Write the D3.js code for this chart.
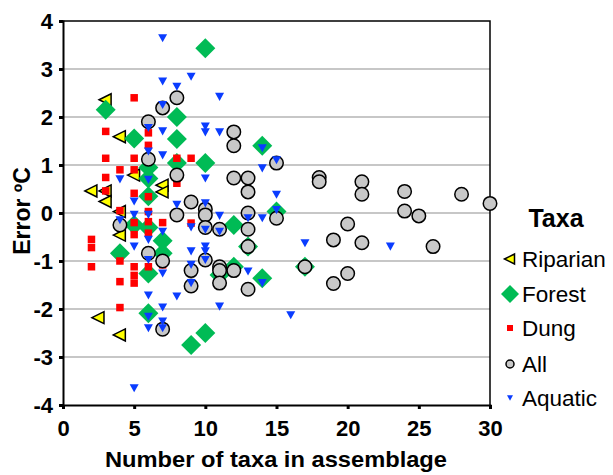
<!DOCTYPE html>
<html>
<head>
<meta charset="utf-8">
<script src="https://cdn.jsdelivr.net/npm/d3@7"></script>
<style>
  body { margin: 0; background: #fff; }
  svg text { font-family: "Liberation Sans", Arial, sans-serif; }
</style>
</head>
<body>
<div id="chart"></div>
<script>
////////////////////////////// DATA ////////////////////////////////

// [number of taxa, error]
const riparian = [
  [3, 2.36], [4, 1.59], [5, 0.79], [2, 0.46], [3, 0.46], [3, 0.24], [7, 0.58],
  [7, 0.44], [4, 0.03], [4, -0.46], [2.5, -2.18], [4, -2.54]
];
const forest = [
  [10, 3.43], [3, 2.15], [5, 1.55], [8, 2.0], [8, 1.54], [6, 0.95], [6, 0.72],
  [6, 0.35], [8, 1.04], [10, 1.04], [14, 1.4], [15, 0.03], [5, -0.25], [6, -0.3],
  [7, -0.58], [7, -0.84], [4, -0.84], [6, -1.26], [6, -2.09], [9, -2.75],
  [10, -2.5], [11, -1.29], [12, -0.25], [12, -1.12], [13, -0.7], [14, -1.36],
  [17, -1.12]
];
const dung = [
  [5, 2.4], [3, 1.7], [6, 1.67], [6, 1.41], [3, 1.14], [5, 1.14], [4, 0.9],
  [5, 0.9], [3, 0.74], [3, 0.46], [5, 0.41], [6, 0.34], [4, 0.05], [6, 0.03],
  [8, 1.14], [9, 1.14], [8, 0.62], [5, -0.2], [5, -0.45], [6, -0.18], [6, -0.42],
  [7, -0.2], [2, -0.55], [2, -0.72], [2, -1.12], [4, -1.0], [6, -1.12],
  [5, -1.12], [5, -1.3], [5, -1.46], [4, -1.43], [4, -1.97], [9, -0.21], [7, -1.08]
];
const all = [
  [6, 1.9], [6, 1.12], [7, 2.19], [8, 2.4], [12, 1.69], [12, 1.4], [8, 0.79],
  [12, 0.73], [13, 0.73], [13, 0.44], [9, 0.23], [10, 0.08], [10, -0.04],
  [15, 1.04], [13, 0.0], [8, -0.04], [13, -0.34], [11, -0.34], [10, -0.3],
  [15, -0.11], [7, -1.0], [9, -1.2], [10, -0.98], [11, -1.12], [11, -1.2],
  [12, -1.2], [13, -0.7], [11, -1.46], [9, -1.52], [13, -1.59], [7, -2.42],
  [18, 0.74], [18, 0.65], [21, 0.65], [21, 0.39], [24, 0.45], [28, 0.39],
  [30, 0.2], [24, 0.04], [25, -0.06], [20, -0.23], [19, -0.56], [21, -0.62],
  [26, -0.7], [17, -1.12], [20, -1.26], [19, -1.47], [4, -0.25], [6, -0.84]
];
const aquatic = [
  [7, 3.64], [9, 2.84], [7, 2.74], [8, 2.63], [11, 2.42], [7, 2.25], [6, 1.77],
  [7, 1.7], [10, 1.8], [10, 1.68], [11, 1.68], [14, 1.35], [6, 1.28], [7, 1.2],
  [4, 0.7], [6, 0.69], [10, 0.72], [14, 0.93], [15, 1.1], [15, 0.38], [5, 0.24],
  [8, 0.17], [10, 0.2], [15, 0.06], [11, -0.06], [14, -0.11], [13, -0.11],
  [5, -0.04], [6, -0.04], [4, -0.15], [7, -0.39], [9, -0.3], [10, -0.35],
  [11, -0.39], [6, -0.56], [5, -0.7], [10, -0.7], [10, -0.8], [9, -0.8],
  [6, -0.98], [10, -0.98], [9, -1.08], [7, -1.26], [13, -1.22], [14, -1.46],
  [9, -1.46], [8, -1.74], [6, -1.72], [7, -1.97], [11, -1.95], [6, -2.16],
  [7, -2.26], [6, -2.4], [7, -2.4], [17, -0.63], [23, -0.7], [16, -2.13],
  [5, -3.65]
];

const xTicks = [0, 5, 10, 15, 20, 25, 30];
const yTicks = [-4, -3, -2, -1, 0, 1, 2, 3, 4];

////////////////////////////// SET UP ////////////////////////////////

const width = 613;
const height = 475;

const svg = d3
  .select("#chart")
  .append("svg")
  .attr("width", width)
  .attr("height", height);

const x = d3.scaleLinear().domain([0, 30]).range([63, 490]);
const y = d3.scaleLinear().domain([-4, 4]).range([405, 21]);

// gridlines
svg
  .selectAll(".grid")
  .data(yTicks.filter((d) => d > -4 && d < 4))
  .join("line")
  .attr("class", "grid")
  .attr("x1", x(0))
  .attr("x2", x(30))
  .attr("y1", (d) => y(d))
  .attr("y2", (d) => y(d))
  .style("stroke", "#b4b4b4")
  .style("stroke-width", 1.5);

// frame top and right
svg
  .append("path")
  .attr("d", `M${x(0)},${y(4)}H${x(30)}V${y(-4)}`)
  .style("fill", "none")
  .style("stroke", "#000")
  .style("stroke-width", 1.5);

////////////////////////////// MARKERS ////////////////////////////////

const shapes = {
  left: (s) => `M${-s * 0.55},0L${s * 0.45},${-s / 2}L${s * 0.45},${s / 2}Z`,
  diamond: (s) => `M0,${-s / 2}L${s / 2},0L0,${s / 2}L${-s / 2},0Z`,
  square: (s) => `M${-s / 2},${-s / 2}h${s}v${s}h${-s}Z`,
  down: (s) => `M${-s / 2},${-s * 0.45}L${s / 2},${-s * 0.45}L0,${s * 0.45}Z`,
};

const series = [
  { name: "Riparian", data: riparian, shape: "left", size: 12, fill: "#ffff00", stroke: "#000", legendSize: 10 },
  { name: "Forest", data: forest, shape: "diamond", size: 20, fill: "#00bb55", stroke: "none", legendSize: 18 },
  { name: "Dung", data: dung, shape: "square", size: 7.5, fill: "#ff0000", stroke: "none", legendSize: 6 },
  { name: "All", data: all, shape: "circle", size: 13.5, fill: "#c8c8c8", stroke: "#000", legendSize: 8 },
  { name: "Aquatic", data: aquatic, shape: "down", size: 9, fill: "#0a3cff", stroke: "none", legendSize: 6 },
];

function drawMarker(g, s, size) {
  if (s.shape === "circle") {
    g.append("circle")
      .attr("r", size / 2)
      .style("fill", s.fill)
      .style("stroke", s.stroke)
      .style("stroke-width", 1.5);
  } else {
    g.append("path")
      .attr("d", shapes[s.shape](size))
      .style("fill", s.fill)
      .style("stroke", s.stroke)
      .style("stroke-width", 1.5)
      .style("stroke-linejoin", "miter");
  }
}

series.forEach((s) => {
  svg
    .append("g")
    .selectAll("g")
    .data(s.data)
    .join("g")
    .attr("transform", (d) => `translate(${x(d[0])},${y(d[1])})`)
    .each(function () {
      drawMarker(d3.select(this), s, s.size);
    });
});

////////////////////////////// AXES ////////////////////////////////

const xAxis = svg
  .append("g")
  .attr("transform", `translate(0,${y(-4)})`)
  .call(d3.axisBottom(x).tickValues(xTicks).tickFormat((d) => d).tickSize(4).tickPadding(11));
const yAxis = svg
  .append("g")
  .attr("transform", `translate(${x(0)},0)`)
  .call(d3.axisLeft(y).tickValues(yTicks).tickFormat((d) => d).tickSize(4).tickPadding(6));

[xAxis, yAxis].forEach((a) => {
  a.select(".domain").style("stroke", "#000").style("stroke-width", 2);
  a.selectAll(".tick line").style("stroke", "#000").style("stroke-width", 3);
  a.selectAll(".tick text")
    .style("font-family", '"Liberation Sans", Arial, sans-serif')
    .style("font-size", "22px")
    .style("font-weight", "bold")
    .style("fill", "#000");
});

// axis titles
svg
  .append("text")
  .attr("x", 276)
  .attr("y", 467)
  .attr("text-anchor", "middle")
  .attr("textLength", 342)
  .attr("lengthAdjust", "spacingAndGlyphs")
  .style("font-size", "22px")
  .style("font-weight", "bold")
  .text("Number of taxa in assemblage");

svg
  .append("text")
  .attr("transform", `translate(30,${y(0) - 2}) rotate(-90)`)
  .attr("text-anchor", "middle")
  .style("font-size", "23px")
  .style("font-weight", "bold")
  .text("Error ºC");

////////////////////////////// LEGEND ////////////////////////////////

svg
  .append("text")
  .attr("x", 556)
  .attr("y", 227)
  .attr("text-anchor", "middle")
  .style("font-size", "25px")
  .style("font-weight", "bold")
  .text("Taxa");

const legendY = [259, 294, 328, 364, 398];
const legend = svg
  .selectAll(".legend")
  .data(series)
  .join("g")
  .attr("class", "legend")
  .attr("transform", (d, i) => `translate(510,${legendY[i]})`);

legend.each(function (s) {
  drawMarker(d3.select(this), s, s.legendSize);
});

legend
  .append("text")
  .attr("x", 12)
  .attr("dy", "0.35em")
  .style("font-size", "22.5px")
  .text((d) => d.name);
</script>
</body>
</html>
